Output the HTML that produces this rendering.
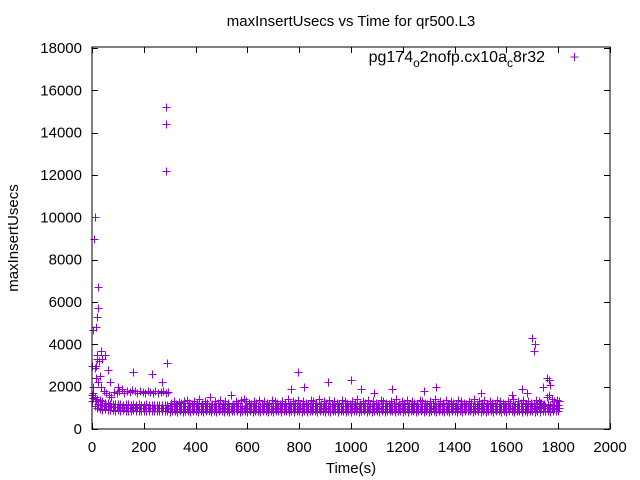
<!DOCTYPE html>
<html><head><meta charset="utf-8"><style>
body{margin:0;background:#fff}
svg{display:block;font-family:"Liberation Sans",sans-serif}
</style></head><body>
<svg id="c" width="640" height="480">
<rect width="640" height="480" fill="#fff"/>
<text x="351" y="26" font-size="15" text-anchor="middle">maxInsertUsecs vs Time for qr500.L3</text>
<text x="351" y="473" font-size="15" text-anchor="middle">Time(s)</text>
<text transform="translate(18,238) rotate(-90)" font-size="15" text-anchor="middle">maxInsertUsecs</text>
<g id="ticks"></g>
<g id="pts"></g>
<rect x="92" y="47" width="518" height="382" fill="none" stroke="#000"/>
<g>
<text x="545" y="62" font-size="16" text-anchor="end">pg174<tspan dy="5" font-size="12">o</tspan><tspan dy="-5">2nofp.cx10a</tspan><tspan dy="5" font-size="12">c</tspan><tspan dy="-5">8r32</tspan></text>
<path d="M570.5 57h8M574.5 53v8" stroke="#9400d3" stroke-width="1" shape-rendering="crispEdges"/>
</g>
</svg>
<script>
const xTicks=[0,200,400,600,800,1000,1200,1400,1600,1800,2000];
const yTicks=[0,2000,4000,6000,8000,10000,12000,14000,16000,18000];
const times=[];for(let t=0;t<=1800;t+=10)times.push(t);
const lowBand=[1300,1100,1000,950,900,950,900,880,900,870,900,860,880,850,870,860,880,850,860,840,850,860,840,830,850,840,830,850,840,830,820,830,840,820,830,820,840,830,820,830,840,820,830,820,830,840,820,830,820,830,840,820,830,820,830,840,830,820,830,840,820,830,820,830,840,820,830,840,820,830,820,840,830,820,830,840,820,830,820,830,840,820,830,820,830,840,830,820,830,840,820,830,820,830,840,820,830,840,820,830,820,840,830,820,830,840,820,830,820,830,840,820,830,820,830,840,830,820,830,840,820,830,820,830,840,820,830,840,820,830,820,840,830,820,830,840,820,830,820,830,840,820,830,820,830,840,830,820,830,840,820,830,820,830,840,820,830,840,820,830,820,840,830,820,830,840,820,830,820,830,840,820,830,820,830,840,830,820,830,840,850,840,830,820,840,830,850,840,830,820];
const midBand=[1600,1500,1400,1350,1300,1250,1250,1200,1200,1200,1180,1200,1150,1180,1160,1150,1170,1150,1160,1140,1150,1160,1140,1130,1150,1140,1130,1150,1140,1130,1080,1100,1080,1090,1080,1100,1090,1080,1100,1090,1080,1100,1090,1080,1100,1090,1080,1100,1090,1080,1100,1090,1080,1100,1090,1080,1100,1090,1080,1100,1090,1080,1100,1090,1080,1100,1090,1080,1100,1090,1080,1100,1090,1080,1100,1090,1080,1100,1090,1080,1100,1090,1080,1100,1090,1080,1100,1090,1080,1100,1090,1080,1100,1090,1080,1100,1090,1080,1100,1090,1080,1100,1090,1080,1100,1090,1080,1100,1090,1080,1100,1090,1080,1100,1090,1080,1100,1090,1080,1100,1090,1080,1100,1090,1080,1100,1090,1080,1100,1090,1080,1100,1090,1080,1100,1090,1080,1100,1090,1080,1100,1090,1080,1100,1090,1080,1100,1090,1080,1100,1090,1080,1100,1090,1080,1100,1090,1080,1100,1090,1080,1100,1090,1080,1100,1090,1080,1100,1090,1080,1100,1090,1200,1250,1150,1100,1200,1150,1100,1120,1150,1100];
const highBand=[2000,2400,2200,2000,1800,1700,1600,1500,1750,1700,1800,1900,1700,1800,1750,1850,1800,1700,1800,1750,1700,1800,1750,1700,1800,1700,1750,1800,1700,1750,1250,1300,1200,1280,1220,1300,1350,1250,1200,1300,1250,1400,1200,1300,1250,1500,1200,1300,1250,1350,1200,1300,1250,1600,1200,1300,1250,1350,1400,1300,1250,1200,1300,1250,1350,1200,1300,1250,1200,1350,1300,1250,1200,1300,1250,1400,1200,1300,1250,1350,1200,1300,1250,1200,1350,1300,1250,1400,1200,1300,1250,1350,1200,1300,1250,1200,1350,1300,1250,1200,1300,1250,1400,1200,1300,1250,1350,1200,1300,1250,1200,1350,1300,1250,1200,1300,1250,1400,1200,1300,1250,1350,1200,1300,1250,1200,1350,1300,1250,1200,1300,1250,1400,1200,1300,1250,1350,1200,1300,1250,1200,1350,1300,1250,1200,1300,1250,1400,1200,1300,1250,1350,1200,1300,1250,1200,1350,1300,1250,1200,1300,1250,1400,1200,1300,1250,1350,1200,1300,1250,1200,1350,1300,1250,1200,1500,1600,1400,1300,1350,1300,1250,1300,1200,1350,1250,1300,1200];
const outlierTimes=[0,3,5,8,10,12,15,15,18,20,20,22,25,28,30,35,40,50,60,70,100,160,230,270,285,285,285,290,770,795,820,910,1000,1040,1090,1160,1280,1330,1500,1620,1660,1680,1700,1705,1710,1740,1755,1765,1770];
const outlierValues=[3000,1700,4700,9000,2900,10000,4800,3000,3500,5300,3300,6700,5700,3200,2500,3700,3300,3500,2800,2200,2000,2700,2600,2200,15200,14400,12200,3100,1900,2700,2000,2200,2300,1900,1700,1900,1800,2000,1700,1600,1900,1700,4300,3700,4000,2000,2400,2300,2100];
const X=v=>92+v*(518/2000), Y=v=>429-v*(381/18000);
const NS='http://www.w3.org/2000/svg';
const tg=document.getElementById('ticks'), pg=document.getElementById('pts');
xTicks.forEach(v=>{const x=Math.round(X(v))+0.5;
const p=document.createElementNS(NS,'path');p.setAttribute('d',`M${x} 429v-6M${x} 47v6`);p.setAttribute('stroke','#000');

tg.appendChild(p);
const t=document.createElementNS(NS,'text');t.setAttribute('x',X(v));t.setAttribute('y',452);t.setAttribute('font-size','15');t.setAttribute('text-anchor','middle');t.textContent=v;

tg.appendChild(t);});
yTicks.forEach(v=>{const y=Math.round(Y(v))+0.5;
const p=document.createElementNS(NS,'path');p.setAttribute('d',`M92 ${y}h6M610 ${y}h-6`);p.setAttribute('stroke','#000');

tg.appendChild(p);
const t=document.createElementNS(NS,'text');t.setAttribute('x',82);t.setAttribute('y',Y(v)+5);t.setAttribute('font-size','15');t.setAttribute('text-anchor','end');t.textContent=v;

tg.appendChild(t);});
let d='';
function add(t,v){if(t===undefined||v===undefined||isNaN(v))return;const x=Math.round(X(t))+0.5,y=Math.round(Y(v))+0.5;d+=`M${x-4} ${y}h8M${x} ${y-4}v8`;}
times.forEach((t,i)=>{const a=lowBand[i],b=midBand[i],c=highBand[i];add(t,a);if(a!==undefined&&b!==undefined)add(t+5,(a+b)/2);add(t,b);add(t+5,c);});
outlierTimes.forEach((t,i)=>add(t,outlierValues[i]));
const path=document.createElementNS(NS,'path');path.setAttribute('d',d);path.setAttribute('stroke','#9400d3');path.setAttribute('fill','none');path.setAttribute('shape-rendering','crispEdges');

pg.appendChild(path);
</script>
</body></html>
